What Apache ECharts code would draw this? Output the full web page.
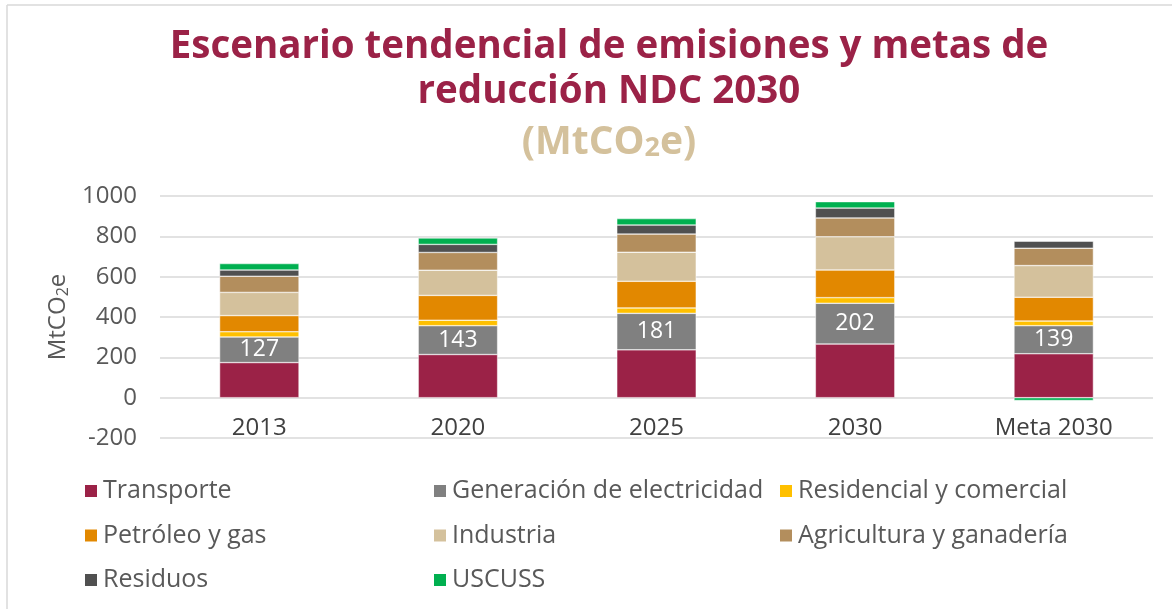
<!DOCTYPE html>
<html><head><meta charset="utf-8">
<script src="https://cdn.jsdelivr.net/npm/echarts@6/dist/echarts.min.js"></script>
<style>html,body{margin:0;padding:0;background:#fff}#c{width:1172px;height:609px}</style>
</head><body><div id="c"></div>
<script>
const categories = ['2013', '2020', '2025', '2030', 'Meta 2030'];
const transporte = [174, 214, 237, 266, 218];
const generacion = [127, 143, 181, 202, 139];
const residencial = [26, 27, 27, 28, 23];
const petroleo = [80, 123, 132, 137, 118];
const industria = [115, 125, 144, 165, 157];
const agricultura = [80, 88, 90, 93, 86];
const residuos = [31, 40, 45, 49, 35];
const uscuss = [32, 32, 32, 32, -14];
const totales = [665, 792, 888, 973, 762];
const yTicks = { min: -200, max: 1000, interval: 200 };

const FONT = '"Open Sans", "Noto Sans", sans-serif';
const BFONT = '"DejaVu Sans", sans-serif';
const seriesDefs = [
  ['Transporte', transporte, '#9B2247'],
  ['Generación de electricidad', generacion, '#808080'],
  ['Residencial y comercial', residencial, '#FFC000'],
  ['Petróleo y gas', petroleo, '#E28800'],
  ['Industria', industria, '#D4C19C'],
  ['Agricultura y ganadería', agricultura, '#B38E5D'],
  ['Residuos', residuos, '#505050'],
  ['USCUSS', uscuss, '#00B050']
];

const series = seriesDefs.map(([name, data, color], i) => ({
  name, type: 'bar', stack: 'total', data, barWidth: '40%',
  itemStyle: { color, borderColor: '#ffffff', borderWidth: 0.5 },
  label: i === 1 ? { show: true, position: 'inside', color: '#ffffff', fontSize: 23, fontFamily: FONT } : { show: false },
  emphasis: { disabled: true }
}));
series.push({
  name: 'Total', type: 'scatter', data: totales, symbolSize: 1,
  itemStyle: { opacity: 0 },
  label: { show: true, position: 'top', distance: 20, color: '#404040', fontSize: 22, fontWeight: 'bold', fontFamily: BFONT },
  z: 10
});

const legendText = { fontSize: 25, color: '#595959', fontFamily: FONT, lineHeight: 28 };
function legendCol(left, names) {
  return { orient: 'vertical', left, top: 477, padding: 0, itemWidth: 14, itemHeight: 14, itemGap: 16.5,
    icon: 'rect', data: names, textStyle: legendText, selectedMode: false };
}

const chart = echarts.init(document.getElementById('c'), null, { renderer: 'canvas' });
chart.setOption({
  animation: false,
  backgroundColor: '#ffffff',
  title: [{
    text: 'Escenario tendencial de emisiones y metas de\nreducción NDC 2030',
    left: 604, top: 20, textAlign: 'center',
    textStyle: { fontFamily: FONT, fontWeight: 'bold', fontSize: 38.5, color: '#9B2247', lineHeight: 45 }
  }, {
    text: '{a|(MtCO}{s|2}{a|e)}',
    left: 604, top: 111, textAlign: 'center',
    textStyle: { rich: {
      a: { fontFamily: FONT, fontWeight: 'bold', fontSize: 39, color: '#D4C19C', lineHeight: 46, verticalAlign: 'bottom' },
      s: { fontFamily: FONT, fontWeight: 'bold', fontSize: 27, color: '#D4C19C', lineHeight: 46, verticalAlign: 'bottom', padding: [14, 0, 0, 0] }
    } }
  }],
  graphic: [
    { type: 'line', shape: { x1: 7, y1: 5, x2: 1172, y2: 5 }, style: { stroke: '#D9D9D9', lineWidth: 1.5 } },
    { type: 'line', shape: { x1: 7, y1: 5, x2: 7, y2: 609 }, style: { stroke: '#D9D9D9', lineWidth: 1.5 } }
  ],
  legend: [
    legendCol(83, ['Transporte', 'Petróleo y gas', 'Residuos']),
    legendCol(432, ['Generación de electricidad', 'Industria', 'USCUSS']),
    legendCol(778, ['Residencial y comercial', 'Agricultura y ganadería'])
  ],
  grid: { left: 160, right: 19, top: 196, bottom: 171, containLabel: false },
  xAxis: {
    type: 'category', data: categories, offset: -40.3,
    axisLine: { show: false, onZero: false }, axisTick: { show: false },
    axisLabel: { fontSize: 24, color: '#404040', fontFamily: FONT, margin: 18 }
  },
  yAxis: {
    type: 'value', min: yTicks.min, max: yTicks.max, interval: yTicks.interval,
    name: '{a|MtCO}{s|2}{a|e}', nameLocation: 'middle', nameGap: 84, nameRotate: 90,
    nameTextStyle: { rich: {
      a: { fontSize: 24, color: '#595959', fontFamily: FONT },
      s: { fontSize: 16, color: '#595959', fontFamily: FONT, padding: [10, 0, 0, 0] }
    } },
    axisLabel: { fontSize: 24, color: '#595959', fontFamily: FONT, margin: 23, formatter: v => String(v) },
    splitLine: { lineStyle: { color: '#D9D9D9', width: 1.5 } },
    axisLine: { show: false }, axisTick: { show: false }
  },
  series
});
</script></body></html>
